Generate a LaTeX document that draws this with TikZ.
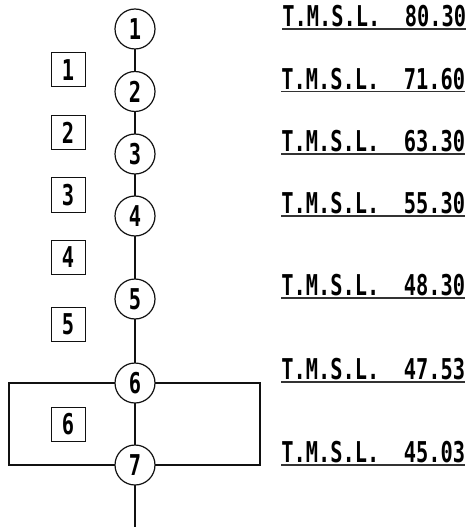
\documentclass[tikz,border=0pt]{standalone}
\usepackage{fontspec}
\usepackage{xcolor}
\usepackage{tikz}
\usetikzlibrary{positioning}
\newfontfamily\levelfont[FakeStretch=0.71]{DejaVu Sans Mono}
\definecolor{Ink}{HTML}{111111}
\definecolor{Rule}{HTML}{333333}
\tikzset{
  station/.style={draw=Ink,circle,line width=0.9pt,fill=white,minimum size=30pt,
                  inner sep=0pt,outer sep=0pt,font=\levelfont\bfseries\fontsize{21.5}{21.5}\selectfont},
  zone/.style={draw=Ink,line width=0.75pt,minimum size=25.5pt,inner sep=0pt,
               font=\levelfont\bfseries\fontsize{21.5}{21.5}\selectfont},
  level/.style={anchor=south west,inner xsep=0pt,inner ysep=1.5pt,text depth=0pt,
                font=\levelfont\bfseries\fontsize{21.5}{21.5}\selectfont},
  riser/.style={draw=Ink,line width=1.5pt},
  underrule/.style={draw=Rule,line width=1.2pt}
}
\begin{document}
\begin{tikzpicture}[x=0.75pt,y=-0.75pt]
  \useasboundingbox (0,0) rectangle (470,527);

  % vertical riser with stations
  \node[station] (c1) at (135,29) {1};
  \node[station] (c2) at (135,91.5) {2};
  \node[station] (c3) at (135,154) {3};
  \node[station] (c4) at (135,216) {4};
  \node[station] (c5) at (135,299) {5};
  \node[station] (c6) at (135,383) {6};
  \node[station] (c7) at (135,465) {7};
  \coordinate (bottom) at (135,527);

  \draw[riser] (c1) -- (c2);
  \draw[riser] (c2) -- (c3);
  \draw[riser] (c3) -- (c4);
  \draw[riser] (c4) -- (c5);
  \draw[riser] (c5) -- (c6);
  \draw[riser] (c6) -- (c7);
  \draw[riser] (c7) -- (bottom);

  % loop around zone 6
  \coordinate (loopNW) at (9,383);
  \coordinate (loopSW) at (9,465);
  \coordinate (loopNE) at (260,383);
  \coordinate (loopSE) at (260,465);
  \draw[riser] (c6.west) -- (loopNW) -- (loopSW) -- (c7.west);
  \draw[riser] (c6.east) -- (loopNE) -- (loopSE) -- (c7.east);

  % zone numbers
  \node[zone] (s1) at (68,70) {1};
  \node[zone] (s2) at (68,133) {2};
  \node[zone] (s3) at (68,195) {3};
  \node[zone] (s4) at (68,257) {4};
  \node[zone] (s5) at (68,324.5) {5};
  \node[zone] (s6) at (68,424) {6};

  % levels
  \node[level] (l1) at (282,29) {T.M.S.L.\ \ 80.30};
  \node[level] (l2) at (281,91.5) {T.M.S.L.\ \ 71.60};
  \node[level] (l3) at (281,154) {T.M.S.L.\ \ 63.30};
  \node[level] (l4) at (281,216) {T.M.S.L.\ \ 55.30};
  \node[level] (l5) at (281,298) {T.M.S.L.\ \ 48.30};
  \node[level] (l6) at (281,382) {T.M.S.L.\ \ 47.53};
  \node[level] (l7) at (281,465) {T.M.S.L.\ \ 45.03};

  \draw[underrule] (l1.south west) -- (l1.south east);
  \draw[underrule] (l2.south west) -- (l2.south east);
  \draw[underrule] (l3.south west) -- (l3.south east);
  \draw[underrule] (l4.south west) -- (l4.south east);
  \draw[underrule] (l5.south west) -- (l5.south east);
  \draw[underrule] (l6.south west) -- (l6.south east);
  \draw[underrule] (l7.south west) -- (l7.south east);
\end{tikzpicture}
\end{document}
